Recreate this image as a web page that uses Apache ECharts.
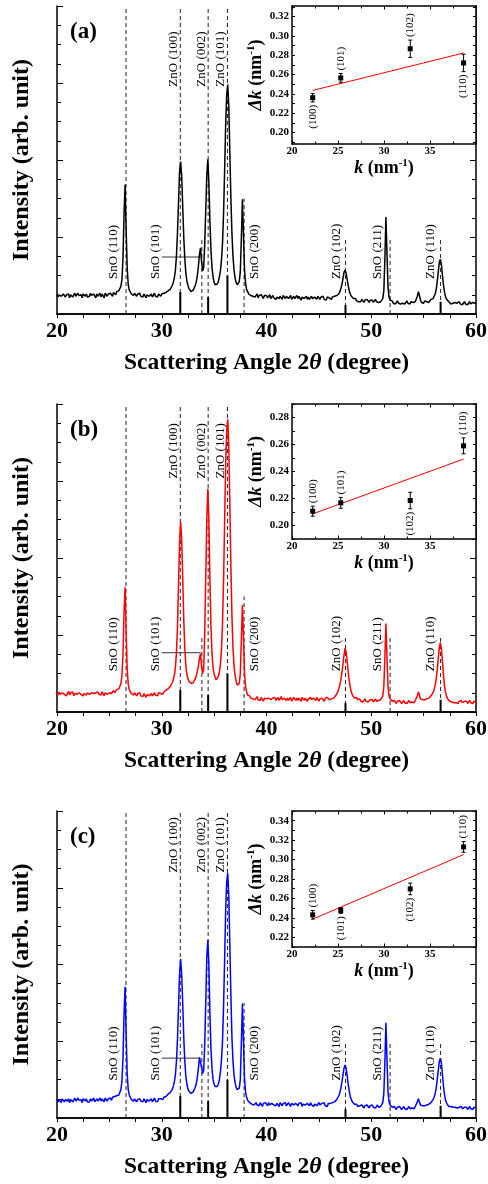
<!DOCTYPE html>
<html><head><meta charset="utf-8">
<script src="https://cdn.jsdelivr.net/npm/echarts@6/dist/echarts.min.js"></script>
<style>html,body{margin:0;padding:0;background:#fff}#c{width:488px;height:1184px}</style>
</head><body><div id="c"></div>
<script>
// ---------- DATA ----------
// XRD intensity (arb. unit), sampled every 0.1 degree from 2θ = 20 to 60
const intensityA = [
.26,.22,.25,.27,.23,.21,.26,.24,.22,.25,
.23,.26,.21,.25,.26,.22,.24,.27,.23,.22,
.27,.24,.22,.25,.21,.26,.25,.23,.26,.22,
.22,.23,.27,.24,.22,.26,.25,.21,.26,.23,
.25,.27,.22,.26,.24,.21,.27,.25,.23,.26,
.24,.27,.25,.23,.28,.26,.25,.29,.27,.3,
.31,.36,.45,.72,1.3,1.68,1.1,.6,.38,.31,
.29,.26,.28,.24,.27,.25,.23,.26,.24,.27,
.23,.25,.22,.26,.24,.21,.25,.27,.23,.25,
.26,.22,.24,.27,.23,.25,.22,.26,.24,.23,
.26,.24,.27,.25,.28,.27,.3,.29,.32,.34,
.37,.41,.47,.56,.75,1.05,1.45,1.85,1.98,1.8,
1.4,1.0,.72,.53,.43,.37,.33,.31,.29,.3,
.31,.33,.37,.42,.5,.62,.78,.86,.68,.56,
.6,.9,1.35,1.8,2.01,1.7,1.2,.82,.6,.48,
.41,.38,.37,.39,.42,.48,.56,.7,.92,1.3,
1.85,2.45,2.85,2.98,2.7,2.1,1.5,1.05,.75,.57,
.47,.41,.38,.38,.42,.55,.98,1.49,1.05,.58,
.4,.32,.29,.26,.27,.24,.26,.23,.25,.22,
.24,.26,.21,.24,.22,.25,.23,.2,.24,.22,
.24,.21,.23,.25,.2,.22,.24,.21,.23,.19,
.22,.24,.2,.23,.21,.19,.24,.22,.2,.23,
.23,.2,.22,.24,.19,.21,.23,.2,.22,.24,
.2,.23,.21,.18,.22,.24,.2,.21,.23,.19,
.22,.19,.21,.23,.2,.18,.22,.21,.19,.23,
.21,.19,.22,.2,.23,.19,.21,.18,.22,.2,
.21,.23,.19,.22,.21,.23,.22,.24,.24,.26,
.29,.33,.38,.46,.54,.57,.53,.45,.37,.3,
.26,.23,.21,.2,.18,.2,.17,.19,.16,.18,
.16,.19,.17,.15,.18,.16,.19,.17,.15,.18,
.16,.18,.15,.17,.19,.16,.18,.15,.17,.16,
.18,.2,.3,.7,1.26,.8,.35,.22,.18,.16,
.17,.14,.16,.13,.15,.17,.14,.16,.13,.15,
.14,.16,.13,.15,.17,.14,.15,.13,.16,.14,
.15,.13,.16,.18,.23,.29,.24,.18,.15,.16,
.14,.17,.15,.16,.18,.15,.17,.19,.18,.2,
.22,.26,.32,.42,.55,.67,.71,.64,.5,.37,
.28,.22,.19,.17,.16,.15,.13,.15,.14,.12,
.15,.13,.14,.12,.16,.13,.15,.12,.14,.16,
.13,.15,.12,.14,.16,.13,.12,.15,.13,.14,
.13];
const intensityB = [
.25,.22,.26,.23,.21,.25,.27,.23,.24,.21,
.24,.27,.22,.25,.23,.26,.21,.24,.26,.23,
.22,.25,.27,.23,.25,.21,.24,.26,.22,.25,
.26,.23,.21,.25,.27,.24,.22,.25,.23,.26,
.23,.25,.22,.26,.24,.21,.25,.27,.23,.25,
.25,.27,.24,.26,.28,.25,.27,.29,.28,.3,
.32,.37,.47,.75,1.3,1.62,1.05,.56,.36,.29,
.27,.24,.26,.22,.25,.23,.21,.24,.22,.25,
.21,.23,.2,.24,.22,.19,.23,.25,.21,.23,
.24,.21,.23,.25,.22,.24,.21,.25,.23,.24,
.25,.23,.26,.25,.28,.27,.3,.31,.33,.35,
.38,.42,.48,.57,.76,1.1,1.65,2.2,2.47,2.25,
1.75,1.2,.83,.6,.49,.43,.4,.38,.37,.37,
.38,.4,.43,.47,.53,.6,.7,.76,.6,.5,
.55,1.0,1.75,2.5,2.9,2.5,1.7,1.1,.75,.57,
.49,.45,.42,.43,.46,.52,.62,.8,1.15,1.7,
2.45,3.2,3.65,3.8,3.45,2.7,1.9,1.25,.83,.6,
.48,.4,.35,.34,.37,.5,.95,1.39,.98,.5,
.33,.26,.22,.2,.21,.18,.2,.17,.19,.16,
.18,.2,.16,.18,.15,.19,.17,.14,.18,.16,
.17,.15,.18,.2,.16,.14,.18,.16,.19,.15,
.16,.19,.15,.17,.2,.16,.14,.18,.17,.15,
.18,.15,.17,.19,.14,.16,.19,.17,.15,.18,
.15,.18,.16,.14,.19,.17,.15,.18,.16,.14,
.17,.15,.19,.16,.14,.18,.16,.15,.19,.17,
.14,.17,.15,.18,.16,.14,.18,.16,.19,.17,
.16,.18,.17,.19,.18,.2,.21,.23,.26,.3,
.35,.42,.51,.62,.74,.83,.78,.66,.52,.4,
.32,.26,.22,.2,.18,.17,.19,.16,.15,.17,
.14,.16,.13,.15,.17,.14,.16,.13,.15,.16,
.14,.16,.13,.15,.17,.14,.16,.15,.17,.16,
.18,.21,.33,.7,1.15,.72,.33,.21,.17,.15,
.14,.12,.15,.13,.11,.14,.12,.15,.13,.11,
.13,.15,.12,.14,.11,.13,.15,.12,.14,.13,
.14,.12,.15,.17,.21,.26,.22,.17,.15,.16,
.14,.16,.15,.17,.16,.18,.19,.21,.22,.25,
.29,.35,.43,.55,.7,.84,.9,.82,.65,.47,
.33,.25,.2,.17,.16,.14,.15,.13,.14,.12,
.14,.12,.13,.11,.14,.12,.15,.12,.13,.14,
.12,.14,.11,.13,.15,.12,.13,.11,.14,.13,
.13];
const intensityC = [
.25,.21,.24,.22,.2,.25,.23,.21,.24,.22,
.22,.25,.2,.24,.25,.21,.23,.26,.22,.21,
.26,.23,.21,.24,.2,.25,.24,.22,.25,.21,
.23,.21,.25,.22,.24,.26,.21,.23,.25,.22,
.24,.26,.22,.25,.23,.21,.26,.24,.22,.25,
.24,.26,.23,.27,.25,.28,.27,.29,.28,.3,
.32,.37,.48,.78,1.35,1.71,1.1,.58,.37,.3,
.27,.24,.26,.22,.25,.23,.21,.24,.22,.25,
.22,.24,.21,.25,.23,.2,.24,.26,.22,.24,
.25,.21,.23,.26,.22,.24,.21,.25,.23,.25,
.26,.24,.27,.26,.28,.29,.31,.3,.33,.35,
.37,.41,.47,.56,.73,1.02,1.45,1.88,2.07,1.88,
1.5,1.05,.74,.54,.44,.38,.35,.33,.32,.33,
.34,.36,.4,.45,.53,.65,.79,.81,.66,.58,
.62,.95,1.5,2.1,2.32,2.0,1.35,.9,.64,.5,
.44,.41,.4,.41,.44,.5,.6,.75,1.0,1.45,
2.05,2.7,3.08,3.19,2.9,2.25,1.6,1.05,.74,.56,
.46,.4,.37,.36,.39,.5,.98,1.49,1.02,.52,
.34,.27,.23,.22,.2,.21,.18,.2,.17,.19,
.2,.17,.19,.16,.2,.18,.15,.19,.17,.2,
.18,.16,.2,.17,.15,.19,.21,.17,.18,.16,
.19,.17,.15,.2,.18,.16,.19,.17,.2,.16,
.17,.2,.18,.15,.19,.21,.17,.16,.19,.18,
.16,.19,.17,.2,.15,.18,.2,.17,.15,.19,
.18,.16,.2,.17,.19,.15,.18,.2,.16,.18,
.2,.17,.15,.19,.17,.2,.16,.18,.15,.19,
.17,.19,.18,.2,.19,.21,.22,.24,.26,.29,
.33,.39,.47,.56,.65,.69,.65,.55,.44,.35,
.28,.24,.21,.19,.18,.16,.18,.15,.17,.16,
.14,.17,.15,.13,.16,.14,.17,.15,.13,.16,
.15,.17,.14,.16,.13,.15,.17,.14,.16,.15,
.17,.2,.32,.72,1.24,.78,.34,.21,.17,.15,
.14,.12,.15,.13,.11,.14,.12,.15,.13,.11,
.13,.15,.12,.14,.11,.13,.15,.12,.14,.13,
.14,.12,.15,.17,.21,.25,.21,.17,.15,.16,
.14,.16,.15,.17,.16,.18,.19,.2,.22,.24,
.27,.32,.39,.5,.62,.74,.78,.71,.56,.41,
.3,.23,.19,.17,.15,.14,.15,.13,.14,.12,
.14,.12,.13,.11,.14,.12,.15,.12,.13,.14,
.12,.14,.11,.13,.15,.12,.13,.11,.14,.13,
.13];

// reference lines (2θ) and reference stick pattern
const refFull = [26.59, 31.77, 34.43, 36.27];
const refPartial = [33.83, 37.86, 47.54, 51.8, 56.62];
const refPartialTop = [1.0, 1.5, 1.0, 1.0, 1.0];
const stickPos = [31.77, 34.43, 36.27, 47.54, 56.62];
const stickHeight = [0.285, 0.22, 0.5, 0.115, 0.16];

const peakLabels = ['SnO (110)','SnO (101)','ZnO (100)','ZnO (002)','ZnO (101)','SnO (200)','ZnO (102)','SnO (211)','ZnO (110)'];
const peakLabelX = [25.4, 29.45, 31.1, 33.8, 35.6, 38.85, 46.72, 50.62, 55.67];
const peakLabelHigh = [false,false,true,true,true,false,false,false,false];

// inset data
const hkl = ['(100)','(101)','(102)','(110)'];
const kVals = [22.25, 25.3, 32.85, 38.65];
const deltaKA = [0.236, 0.2565, 0.2867, 0.272];
const errA = [0.0044, 0.0045, 0.009, 0.009];
const deltaKB = [0.2106, 0.2168, 0.2185, 0.259];
const errB = [0.0037, 0.004, 0.0061, 0.0059];
const deltaKC = [0.2431, 0.2476, 0.2698, 0.313];
const errC = [0.0044, 0.003, 0.006, 0.0055];
const fitA = [[22.25, 0.2435], [38.65, 0.2823]];
const fitB = [[22.25, 0.2086], [38.65, 0.2492]];
const fitC = [[22.25, 0.2387], [38.65, 0.3051]];
const labelSideA = ['below','above','above','below'];
const labelSideB = ['above','above','below','above'];
const labelSideC = ['above','below','below','above'];

const kTickLabels = [20, 25, 30, 35];
const dkLabelsA = [0.20, 0.22, 0.24, 0.26, 0.28, 0.30, 0.32];
const dkLabelsB = [0.20, 0.22, 0.24, 0.26, 0.28];
const dkLabelsC = [0.22, 0.24, 0.26, 0.28, 0.30, 0.32, 0.34];
const dkTicksA = [0.19,0.20,0.21,0.22,0.23,0.24,0.25,0.26,0.27,0.28,0.29,0.30,0.31,0.32,0.33];
const dkTicksB = [0.19,0.20,0.21,0.22,0.23,0.24,0.25,0.26,0.27,0.28,0.29];
const dkTicksC = [0.21,0.22,0.23,0.24,0.25,0.26,0.27,0.28,0.29,0.30,0.31,0.32,0.33,0.34,0.35];

// ---------- LAYOUT ----------
const FONT = '"Liberation Serif", "Times New Roman", serif';
const panels = [
  {I: intensityA, color: '#000000', dk: deltaKA, err: errA, fit: fitA, side: labelSideA,
   dkMin: 0.188, dkMax: 0.331, dkLabels: dkLabelsA, dkTicks: dkTicksA,
   top: 6, h: 308, insetH: 138, letter: '(a)', lo: 0.455, hi: 3.67, lead: 0.74},
  {I: intensityB, color: '#ff0000', dk: deltaKB, err: errB, fit: fitB, side: labelSideB,
   dkMin: 0.190, dkMax: 0.290, dkLabels: dkLabelsB, dkTicks: dkTicksB,
   top: 404, h: 308, insetH: 135, letter: '(b)', lo: 0.53, hi: 3.75, lead: 0.77},
  {I: intensityC, color: '#0000ff', dk: deltaKC, err: errC, fit: fitC, side: labelSideC,
   dkMin: 0.210, dkMax: 0.350, dkLabels: dkLabelsC, dkTicks: dkTicksC,
   top: 811, h: 307, insetH: 136, letter: '(c)', lo: 0.49, hi: 3.92, lead: 0.78}
];
const twoTheta = intensityA.map((_, i) => Math.round((20 + i * 0.1) * 10) / 10);

const grid = [], xAxis = [], yAxis = [], series = [], graphic = [];
const black = '#000';
panels.forEach((P, i) => {
  const gm = 2 * i, gi = 2 * i + 1;
  grid.push({left: 57, top: P.top, width: 419, height: P.h, outerBoundsMode: 'none'});
  grid.push({left: 292, top: P.top, width: 184, height: P.insetH, outerBoundsMode: 'none',
    show: true, backgroundColor: '#fff', borderWidth: 0, z: 10});
  const line = {lineStyle: {color: black, width: 1.5}};
  xAxis.push({gridIndex: gm, type: 'value', min: 20, max: 60, interval: 10, position: 'bottom',
    axisLine: line, splitLine: {show: false},
    axisTick: {inside: false, length: 4, lineStyle: {color: black, width: 1}},
    minorTick: {show: true, splitNumber: 4, length: 4, lineStyle: {color: black, width: 1}},
    axisLabel: {color: black, fontFamily: FONT, fontWeight: 'bold', fontSize: 22, margin: 6},
    name: '{b|Scattering Angle 2}{i|θ}{b| (degree)}', nameLocation: 'middle', nameGap: 37,
    nameTextStyle: {rich: {
      b: {fontFamily: FONT, fontWeight: 'bold', fontSize: 23.5, color: black},
      i: {fontFamily: FONT, fontWeight: 'bold', fontStyle: 'italic', fontSize: 23.5, color: black}}}
  });
  xAxis.push({gridIndex: gm, type: 'value', min: 20, max: 60, interval: 10, position: 'top',
    axisLine: line, splitLine: {show: false}, axisLabel: {show: false},
    axisTick: {inside: true, length: 4, lineStyle: {color: black, width: 1}},
    minorTick: {show: true, splitNumber: 4, length: 4, lineStyle: {color: black, width: 1}}});
  xAxis.push({gridIndex: gi, type: 'value', min: 20, max: 40, interval: 5, position: 'bottom', z: 11,
    axisLine: line, splitLine: {show: false},
    axisTick: {inside: true, length: 3.5, lineStyle: {color: black, width: 1}},
    minorTick: {show: true, splitNumber: 2, length: 2.5, lineStyle: {color: black, width: 1}},
    axisLabel: {color: black, fontFamily: FONT, fontWeight: 'bold', fontSize: 11, margin: 2,
      customValues: kTickLabels},
    name: '{i|k}{b| (nm}{s|-1}{b|)}', nameLocation: 'middle', nameGap: 11,
    nameTextStyle: {rich: {
      b: {fontFamily: FONT, fontWeight: 'bold', fontSize: 18, color: black, lineHeight: 20},
      i: {fontFamily: FONT, fontWeight: 'bold', fontStyle: 'italic', fontSize: 18, color: black, lineHeight: 20},
      s: {fontFamily: FONT, fontWeight: 'bold', fontSize: 11, color: black, lineHeight: 12, verticalAlign: 'top'}}}
  });
  xAxis.push({gridIndex: gi, type: 'value', min: 20, max: 40, interval: 5, position: 'top', z: 11,
    axisLine: line, splitLine: {show: false}, axisLabel: {show: false},
    axisTick: {inside: true, length: 3.5, lineStyle: {color: black, width: 1}},
    minorTick: {show: true, splitNumber: 2, length: 2.5, lineStyle: {color: black, width: 1}}});
  yAxis.push({gridIndex: gm, type: 'value', min: 0, max: 4, interval: 1, position: 'left',
    axisLine: line, splitLine: {show: false}, axisLabel: {show: false},
    axisTick: {inside: true, length: 6, lineStyle: {color: black, width: 1}},
    minorTick: {show: true, splitNumber: 4, length: 4, lineStyle: {color: black, width: 1}},
    name: 'Intensity (arb. unit)', nameLocation: 'middle', nameGap: 23,
    nameTextStyle: {fontFamily: FONT, fontWeight: 'bold', fontSize: 24, color: black}});
  yAxis.push({gridIndex: gm, type: 'value', min: 0, max: 4, interval: 1, position: 'right',
    axisLine: line, splitLine: {show: false}, axisLabel: {show: false},
    axisTick: {inside: true, length: 6, lineStyle: {color: black, width: 1}},
    minorTick: {show: true, splitNumber: 4, length: 4, lineStyle: {color: black, width: 1}}});
  yAxis.push({gridIndex: gi, type: 'value', min: P.dkMin, max: P.dkMax, position: 'left', z: 11,
    axisLine: line, splitLine: {show: false},
    axisTick: {inside: true, length: 3, customValues: P.dkTicks, lineStyle: {color: black, width: 1}},
    axisLabel: {color: black, fontFamily: FONT, fontWeight: 'bold', fontSize: 11, margin: 3,
      customValues: P.dkLabels, formatter: v => v.toFixed(2)},
    name: '{i|Δk}{b| (nm}{s|-1}{b|)}', nameLocation: 'middle', nameGap: 26,
    nameTextStyle: {rich: {
      b: {fontFamily: FONT, fontWeight: 'bold', fontSize: 18, color: black, lineHeight: 20},
      i: {fontFamily: FONT, fontWeight: 'bold', fontStyle: 'italic', fontSize: 18, color: black, lineHeight: 20},
      s: {fontFamily: FONT, fontWeight: 'bold', fontSize: 11, color: black, lineHeight: 12, verticalAlign: 'top'}}}
  });
  yAxis.push({gridIndex: gi, type: 'value', min: P.dkMin, max: P.dkMax, position: 'right', z: 11,
    axisLine: line, splitLine: {show: false}, axisLabel: {show: false},
    axisTick: {inside: true, length: 3, customValues: P.dkTicks, lineStyle: {color: black, width: 1}}});

  const xm = 4 * i, xi = 4 * i + 2;
  series.push({type: 'line', xAxisIndex: xm, yAxisIndex: xm, showSymbol: false, symbol: 'none',
    sampling: null, animation: false, silent: true, z: 4,
    lineStyle: {color: P.color, width: 1.5}, itemStyle: {color: P.color},
    data: twoTheta.map((t, j) => [t, P.I[j]])});
  const dashData = refFull.map(x => [x, 4]).concat(refPartial.map((x, j) => [x, refPartialTop[j]]));
  series.push({type: 'custom', xAxisIndex: xm, yAxisIndex: xm, silent: true, animation: false, z: 3,
    data: dashData,
    renderItem: (p, api) => {
      const a = api.coord([api.value(0), 0]), b = api.coord([api.value(0), api.value(1)]);
      return {type: 'line', shape: {x1: a[0], y1: a[1], x2: b[0], y2: b[1]},
        style: {stroke: '#222', lineWidth: 1, lineDash: [4, 3]}};
    }});
  series.push({type: 'custom', xAxisIndex: xm, yAxisIndex: xm, silent: true, animation: false, z: 3,
    data: stickPos.map((x, j) => [x, stickHeight[j]]),
    renderItem: (p, api) => {
      const a = api.coord([api.value(0), 0]), b = api.coord([api.value(0), api.value(1)]);
      return {type: 'line', shape: {x1: a[0], y1: a[1], x2: b[0], y2: b[1]},
        style: {stroke: '#000', lineWidth: 2}};
    }});
  series.push({type: 'custom', xAxisIndex: xm, yAxisIndex: xm, silent: true, animation: false, z: 3,
    data: [[30.0, 33.7, P.lead]],
    renderItem: (p, api) => {
      const a = api.coord([api.value(0), api.value(2)]), b = api.coord([api.value(1), api.value(2)]);
      return {type: 'line', shape: {x1: a[0], y1: a[1], x2: b[0], y2: b[1]},
        style: {stroke: '#333', lineWidth: 1}};
    }});
  series.push({type: 'custom', xAxisIndex: xm, yAxisIndex: xm, silent: true, animation: false, z: 5,
    data: peakLabelX.map((x, j) => [x, peakLabelHigh[j] ? P.hi : P.lo]),
    renderItem: (p, api) => {
      const j = p.dataIndex;
      const c = api.coord([api.value(0), api.value(1)]);
      return {type: 'text', x: c[0], y: c[1], rotation: Math.PI / 2,
        style: {text: peakLabels[j], align: peakLabelHigh[j] ? 'right' : 'left', verticalAlign: 'middle',
          font: '13px ' + FONT, fill: '#000'}};
    }});
  series.push({type: 'line', xAxisIndex: xi, yAxisIndex: xi, showSymbol: false, symbol: 'none',
    animation: false, silent: true, z: 12, lineStyle: {color: '#ff0000', width: 1}, data: P.fit});
  series.push({type: 'custom', xAxisIndex: xi, yAxisIndex: xi, silent: true, animation: false, z: 13,
    data: kVals.map((k, j) => [k, P.dk[j], P.err[j]]),
    renderItem: (p, api) => {
      const j = p.dataIndex;
      const k = api.value(0), v = api.value(1), e = api.value(2);
      const c = api.coord([k, v]), t = api.coord([k, v + e]), b = api.coord([k, v - e]);
      const st = {stroke: '#000', lineWidth: 1};
      const above = P.side[j] === 'above';
      return {type: 'group', children: [
        {type: 'line', shape: {x1: c[0], y1: t[1], x2: c[0], y2: b[1]}, style: st},
        {type: 'line', shape: {x1: c[0] - 2, y1: t[1], x2: c[0] + 2, y2: t[1]}, style: st},
        {type: 'line', shape: {x1: c[0] - 2, y1: b[1], x2: c[0] + 2, y2: b[1]}, style: st},
        {type: 'rect', shape: {x: c[0] - 2.5, y: c[1] - 2.5, width: 5, height: 5}, style: {fill: '#000'}},
        {type: 'text', x: c[0], y: above ? t[1] - 3 : b[1] + 3, rotation: Math.PI / 2,
          style: {text: hkl[j], align: above ? 'left' : 'right', verticalAlign: 'middle',
            font: '11px ' + FONT, fill: '#000'}}
      ]};
    }});
  graphic.push({type: 'text', left: 70, top: P.top + 15, z: 20,
    style: {text: P.letter, font: 'bold 23px ' + FONT, fill: '#000'}});
});

const chart = echarts.init(document.getElementById('c'), null, {renderer: 'canvas'});
chart.setOption({animation: false, backgroundColor: '#fff', grid, xAxis, yAxis, series, graphic});
</script></body></html>
